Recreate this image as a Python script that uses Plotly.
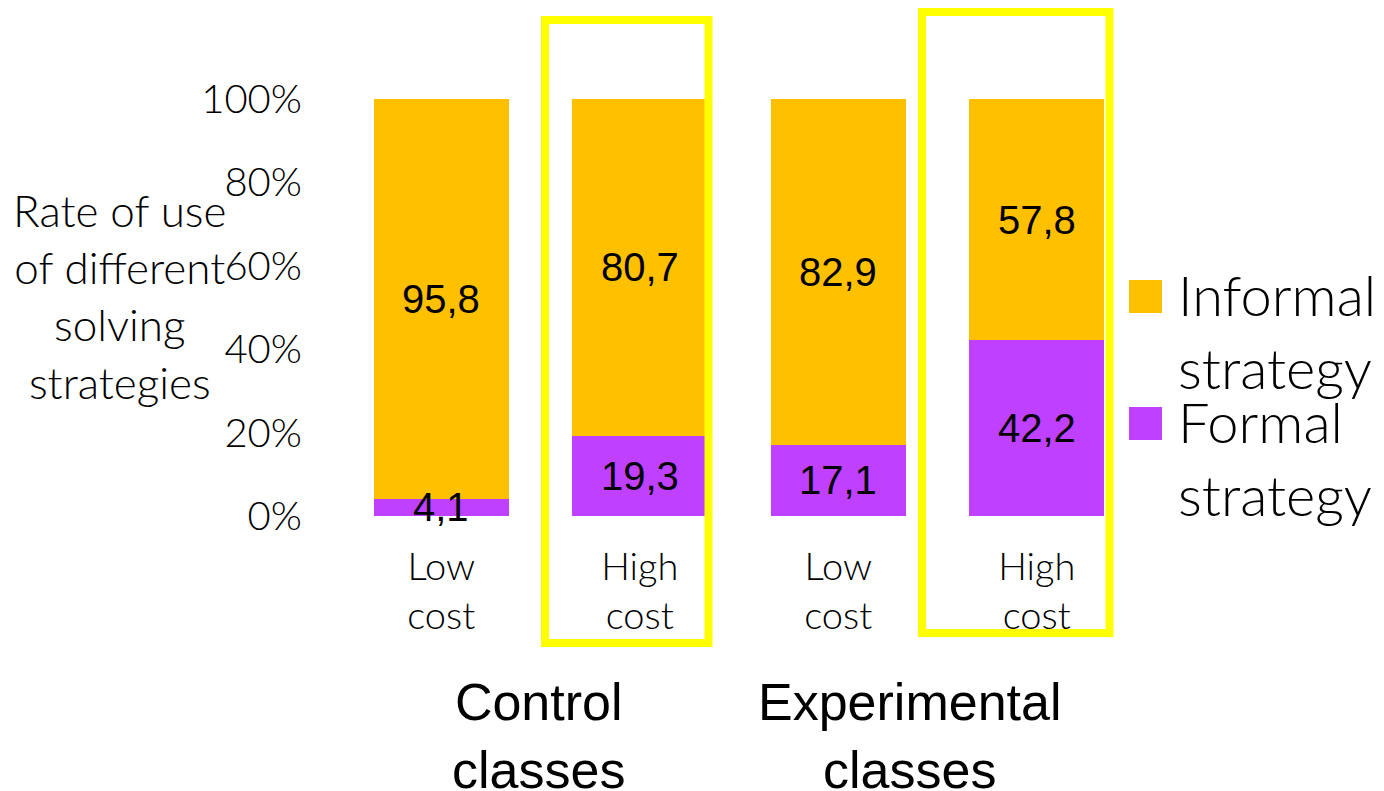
import plotly.graph_objects as go

# Data: share of each solving strategy (%) per class group and cost condition
conditions = ["Low<br>cost", "High<br>cost", "Low<br>cost", "High<br>cost"]
formal = [4.1, 19.3, 17.1, 42.2]
informal = [95.8, 80.7, 82.9, 57.8]
groups = ["Control<br>classes", "Experimental<br>classes"]
y_ticks = [0, 20, 40, 60, 80, 100]
y_ticktext = ["0%", "20%", "40%", "60%", "80%", "100%"]

ORANGE = "#FFC000"
PURPLE = "#BF40FF"
YELLOW = "#FFFF00"
HUMANIST = "Lato, 'Gill Sans MT', 'Gill Sans', sans-serif"
ARIAL = "'Liberation Sans', Arial, sans-serif"
LIGHT = 300

W, H = 1384, 791
ML, MR, MT, MB = 342, 248, 99, 275
PW, PH = W - ML - MR, H - MT - MB


def px(x):
    return (x - ML) / PW


def py(y):
    return (H - MB - y) / PH


xs = list(range(len(conditions)))

fig = go.Figure()
fig.add_trace(go.Bar(x=xs, y=formal, name="Formal strategy",
                     marker=dict(color=PURPLE, line=dict(width=0)), width=0.68))
fig.add_trace(go.Bar(x=xs, y=informal, name="Informal strategy",
                     marker=dict(color=ORANGE, line=dict(width=0)), width=0.68))

fmt = lambda v: f"{v:.1f}".replace(".", ",")
annotations = []
for i, (f, inf) in enumerate(zip(formal, informal)):
    annotations.append(dict(x=i, y=f / 2, text=fmt(f), showarrow=False,
                            font=dict(family=ARIAL, size=40, color="black"),
                            xanchor="center", yanchor="middle"))
    annotations.append(dict(x=i, y=f + inf / 2, text=fmt(inf), showarrow=False,
                            font=dict(family=ARIAL, size=40, color="black"),
                            xanchor="center", yanchor="middle"))

# Axis title
annotations.append(dict(xref="paper", yref="paper", x=px(120), y=py(296),
                        text="Rate of use<br>of different<br>solving<br>strategies",
                        showarrow=False, align="center", xanchor="center", yanchor="middle",
                        font=dict(family=HUMANIST, size=44, color="black", weight=LIGHT)))

# Group labels
for gx, g in zip([538, 909], groups):
    annotations.append(dict(xref="paper", yref="paper", x=px(gx), y=py(671),
                            text=g, showarrow=False, align="center",
                            xanchor="center", yanchor="top",
                            font=dict(family=ARIAL, size=52, color="black")))

# Legend
shapes = []
legend_items = [(ORANGE, "Informal<br>strategy", 280), (PURPLE, "Formal<br>strategy", 407)]
for color, label, top in legend_items:
    shapes.append(dict(type="rect", xref="paper", yref="paper",
                       x0=px(1129), x1=px(1162), y0=py(top + 33), y1=py(top),
                       fillcolor=color, line=dict(width=0)))
    annotations.append(dict(xref="paper", yref="paper", x=px(1176), y=py(top - 21),
                            text=label, showarrow=False, align="left",
                            xanchor="left", yanchor="top",
                            font=dict(family=HUMANIST, size=56, color="black", weight=LIGHT)))

# Highlight frames around the high-cost bars
for x0, x1, y0, y1 in [(545, 708.5, 20, 643), (922, 1109.5, 12, 633)]:
    shapes.append(dict(type="rect", xref="paper", yref="paper",
                       x0=px(x0), x1=px(x1), y0=py(y1), y1=py(y0),
                       line=dict(color=YELLOW, width=8), fillcolor="rgba(0,0,0,0)"))

fig.update_layout(
    width=W, height=H,
    margin=dict(l=ML, r=MR, t=MT, b=MB, pad=0),
    barmode="stack", showlegend=False,
    plot_bgcolor="white", paper_bgcolor="white",
    annotations=annotations, shapes=shapes,
    xaxis=dict(range=[-0.5, 3.5], tickvals=xs, ticktext=conditions,
               showgrid=False, zeroline=False, showline=False, ticks="",
               tickfont=dict(family=HUMANIST, size=38, color="black", weight=LIGHT),
               ticklabelstandoff=25),
    yaxis=dict(range=[0, 100], tickvals=y_ticks, ticktext=y_ticktext,
               showgrid=False, zeroline=False, showline=False, ticks="",
               tickfont=dict(family=HUMANIST, size=40, color="black", weight=LIGHT),
               ticklabelstandoff=39),
)

fig.write_html("out.html")
